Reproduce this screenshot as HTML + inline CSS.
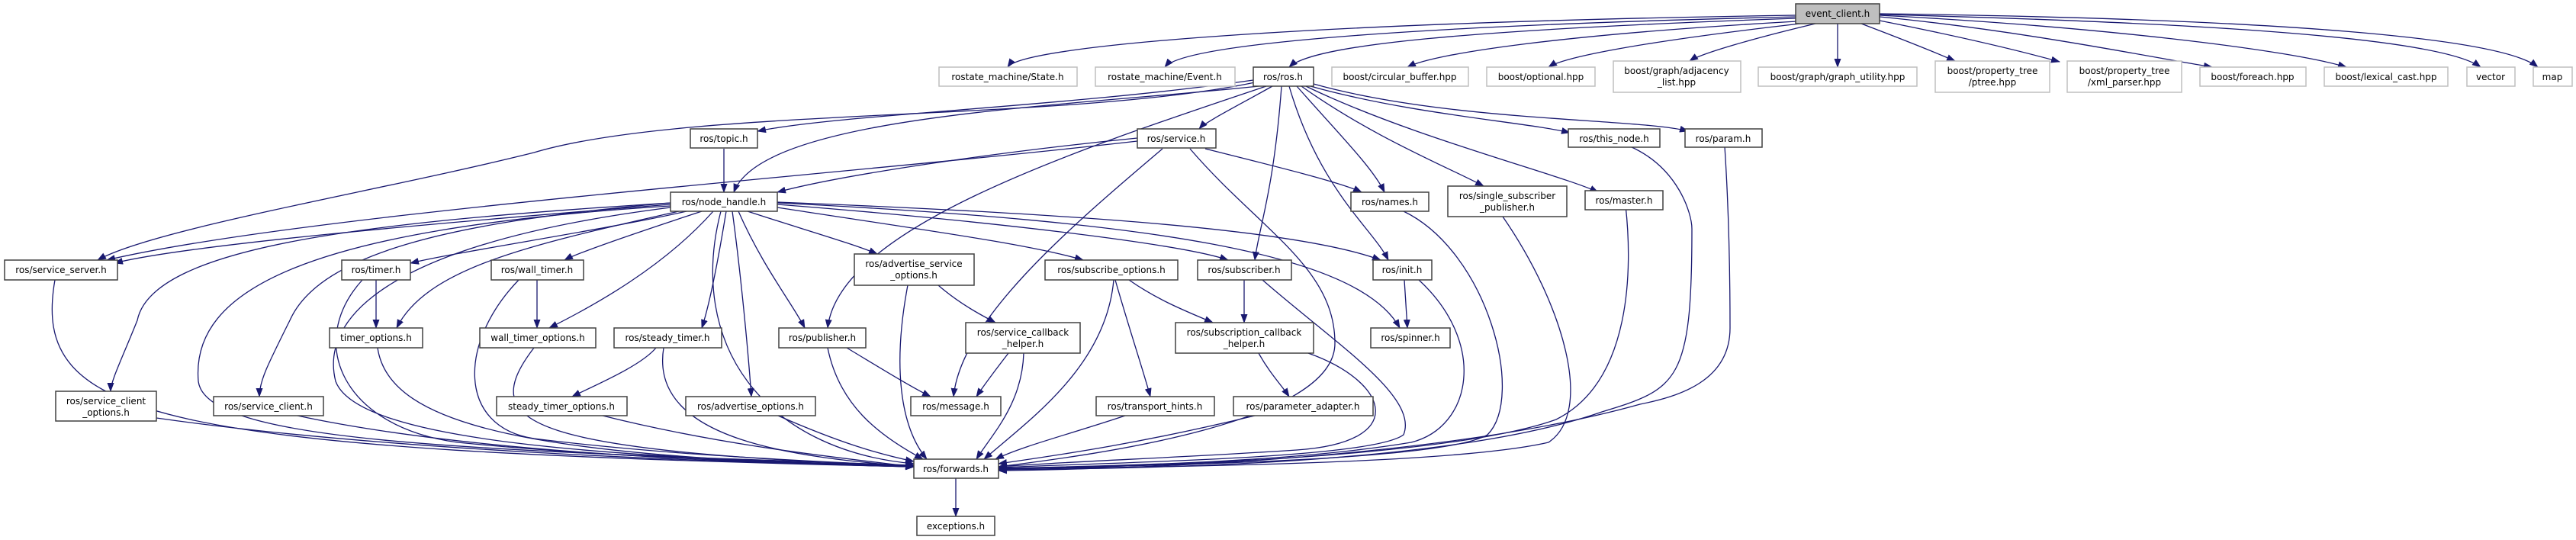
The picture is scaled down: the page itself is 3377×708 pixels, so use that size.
<!DOCTYPE html>
<html><head><meta charset="utf-8"><style>
html,body{margin:0;padding:0;background:#fff;}
svg{display:block;}
text{font-family:"DejaVu Sans","Liberation Sans",sans-serif;font-size:12px;fill:#000;}
.e{fill:none;stroke:#191970;stroke-width:1.3;marker-end:url(#a);}
.n{fill:#fff;stroke:#404040;stroke-width:1.5;}
.g{fill:#fff;stroke:#bfbfbf;stroke-width:1.5;}
</style></head><body>
<svg width="3377" height="708" viewBox="0 0 3377 708" xmlns="http://www.w3.org/2000/svg">
<defs><marker id="a" markerUnits="userSpaceOnUse" markerWidth="12" markerHeight="9" refX="11" refY="4.5" orient="auto"><path d="M0,0 L12,4.5 L0,9 z" fill="#191970"/></marker></defs>
<g>
<path class="e" d="M2354 20 C1700 30,1340 60,1321 88"/>
<path class="e" d="M2354 22 C1800 35,1550 60,1527 88"/>
<path class="e" d="M2354 24 C1900 40,1720 60,1690 88"/>
<path class="e" d="M2356 28 C2050 45,1880 70,1845 88"/>
<path class="e" d="M2360 31 C2150 55,2050 75,2030 88"/>
<path class="e" d="M2380 31 C2300 50,2230 70,2215 80"/>
<path class="e" d="M2409 31 L2409 88"/>
<path class="e" d="M2440 31 C2490 50,2540 70,2563 80"/>
<path class="e" d="M2464 27 C2580 50,2660 70,2700 81"/>
<path class="e" d="M2464 22 C2650 40,2820 75,2900 88"/>
<path class="e" d="M2464 20 C2750 35,3000 65,3076 88"/>
<path class="e" d="M2464 19 C2900 30,3200 50,3252 88"/>
<path class="e" d="M2464 18 C3000 25,3280 50,3327 88"/>

<path class="e" d="M1643 105 C1400 140,1100 150,993 172"/>
<path class="e" d="M1650 113 C1400 140,1000 150,962 252"/>
<path class="e" d="M1645 108 C1400 160,900 140,700 200 C500 250,200 300,128 341"/>
<path class="e" d="M1668 113 C1620 140,1580 160,1572 169"/>
<path class="e" d="M1660 113 C1400 200,1100 300,1085 430"/>
<path class="e" d="M1680 113 C1670 250,1650 300,1645 341"/>
<path class="e" d="M1690 113 C1730 250,1800 300,1820 341"/>
<path class="e" d="M1700 113 C1750 170,1800 220,1815 252"/>
<path class="e" d="M1706 113 C1800 180,1900 220,1945 244"/>
<path class="e" d="M1712 113 C1850 180,2050 230,2095 252"/>
<path class="e" d="M1718 113 C1850 150,2000 160,2058 174"/>
<path class="e" d="M1722 110 C1900 160,2150 155,2213 172"/>

<path class="e" d="M1491 181 C1300 200,1100 230,1019 252"/>
<path class="e" d="M1491 185 C1100 230,400 280,140 341"/>
<path class="e" d="M1524 195 C1400 300,1260 420,1250 520"/>
<path class="e" d="M1560 195 C1650 300,1750 350,1750 450 C1750 560,1400 600,1309 612"/>
<path class="e" d="M1580 195 C1680 220,1760 240,1785 252"/>
<path class="e" d="M949 195 L949 252"/>

<path class="e" d="M879 268 C600 290,250 320,150 345"/>
<path class="e" d="M879 266 C500 290,200 320,180 420 C160 470,145 500,145 513"/>
<path class="e" d="M879 266 C600 290,420 330,380 420 C350 480,340 500,340 520"/>
<path class="e" d="M879 270 C400 300,250 380,260 500 C270 580,600 590,1198 610"/>
<path class="e" d="M879 272 C500 320,420 420,440 500 C470 580,800 600,1198 611"/>
<path class="e" d="M900 277 C800 300,600 330,538 345"/>
<path class="e" d="M890 277 C700 320,560 350,520 430"/>
<path class="e" d="M920 277 C850 300,760 330,740 341"/>
<path class="e" d="M935 277 C870 350,780 400,720 430"/>
<path class="e" d="M952 277 C940 350,930 400,920 430"/>
<path class="e" d="M960 277 C970 350,980 450,985 520"/>
<path class="e" d="M968 277 C1000 350,1040 400,1055 430"/>
<path class="e" d="M980 277 C1050 300,1120 320,1150 333"/>
<path class="e" d="M1019 272 C1200 300,1350 320,1420 341"/>
<path class="e" d="M1019 268 C1300 290,1550 320,1610 341"/>
<path class="e" d="M1019 265 C1400 280,1700 300,1810 341"/>
<path class="e" d="M1019 266 C1500 290,1780 330,1835 430"/>
<path class="e" d="M945 277 C900 450,1000 590,1198 608"/>

<path class="e" d="M72 367 C40 550,200 590,1198 612"/>
<path class="e" d="M205 548 C500 590,900 605,1198 612"/>
<path class="e" d="M390 545 C600 590,900 605,1198 612"/>
<path class="e" d="M475 367 C400 450,450 560,600 580 C800 600,1000 605,1198 612"/>
<path class="e" d="M495 456 C510 560,700 600,1198 612"/>
<path class="e" d="M680 367 C600 450,600 560,700 575 C900 600,1100 605,1198 612"/>
<path class="e" d="M700 456 C620 560,700 590,1198 612"/>
<path class="e" d="M870 456 C850 580,1050 600,1198 612"/>
<path class="e" d="M790 545 C950 585,1100 600,1198 612"/>
<path class="e" d="M1020 545 C1100 580,1150 595,1198 605"/>
<path class="e" d="M1085 456 C1100 530,1150 570,1210 602"/>
<path class="e" d="M1190 374 C1170 480,1180 560,1215 602"/>
<path class="e" d="M1342 463 C1340 530,1300 570,1280 602"/>
<path class="e" d="M1460 367 C1450 480,1350 550,1290 602"/>
<path class="e" d="M1475 545 C1400 570,1340 585,1305 602"/>
<path class="e" d="M1645 545 C1500 580,1400 595,1309 608"/>
<path class="e" d="M1715 463 C1820 500,1850 580,1700 590 C1550 600,1400 605,1309 612"/>
<path class="e" d="M1655 367 C1750 450,1860 520,1840 570 C1800 600,1500 605,1309 613"/>
<path class="e" d="M1860 367 C1950 450,1930 560,1850 580 C1700 605,1500 610,1309 614"/>
<path class="e" d="M1840 277 C1950 330,2000 520,1950 570 C1900 600,1600 610,1309 614"/>
<path class="e" d="M1970 284 C2050 400,2090 540,2030 580 C1900 610,1500 612,1309 615"/>
<path class="e" d="M2131 269 C2140 350,2140 500,2040 550 C1900 600,1500 612,1309 615"/>
<path class="e" d="M2137 192 C2200 220,2218 280,2218 300 C2218 500,2200 510,2100 540 C1900 610,1500 614,1309 616"/>
<path class="e" d="M2261 192 C2268 300,2268 400,2268 430 C2268 500,2200 520,2150 530 C1900 600,1500 615,1309 617"/>

<path class="e" d="M493 367 L493 430"/>
<path class="e" d="M704 367 L704 430"/>
<path class="e" d="M860 456 C840 480,780 505,750 520"/>
<path class="e" d="M1230 374 C1260 400,1290 415,1305 423"/>
<path class="e" d="M1110 456 C1150 480,1190 505,1220 520"/>
<path class="e" d="M1322 463 C1305 485,1290 505,1280 520"/>
<path class="e" d="M1480 367 C1520 395,1560 410,1590 423"/>
<path class="e" d="M1462 367 C1480 430,1500 490,1508 520"/>
<path class="e" d="M1631 367 L1631 423"/>
<path class="e" d="M1650 463 C1665 490,1680 505,1690 520"/>
<path class="e" d="M1841 367 L1845 430"/>
<path class="e" d="M1253 627 L1253 677"/>
</g>
<g text-anchor="middle">
<rect x="2354" y="5" width="110" height="26" fill="#bfbfbf" stroke="#404040" stroke-width="1.5"/><text x="2409" y="22">event_client.h</text>
<rect class="g" x="1231" y="88" width="181" height="25"/><text x="1321" y="105">rostate_machine/State.h</text>
<rect class="g" x="1436" y="88" width="183" height="25"/><text x="1527" y="105">rostate_machine/Event.h</text>
<rect class="n" x="1643" y="88" width="79" height="25"/><text x="1682" y="105">ros/ros.h</text>
<rect class="g" x="1746" y="88" width="179" height="25"/><text x="1835" y="105">boost/circular_buffer.hpp</text>
<rect class="g" x="1949" y="88" width="142" height="25"/><text x="2020" y="105">boost/optional.hpp</text>
<rect class="g" x="2115" y="80" width="167" height="41"/><text x="2198" y="97">boost/graph/adjacency</text><text x="2198" y="112">_list.hpp</text>
<rect class="g" x="2305" y="88" width="208" height="25"/><text x="2409" y="105">boost/graph/graph_utility.hpp</text>
<rect class="g" x="2537" y="80" width="150" height="41"/><text x="2612" y="97">boost/property_tree</text><text x="2612" y="112">/ptree.hpp</text>
<rect class="g" x="2710" y="80" width="150" height="41"/><text x="2785" y="97">boost/property_tree</text><text x="2785" y="112">/xml_parser.hpp</text>
<rect class="g" x="2884" y="88" width="139" height="25"/><text x="2953" y="105">boost/foreach.hpp</text>
<rect class="g" x="3047" y="88" width="162" height="25"/><text x="3128" y="105">boost/lexical_cast.hpp</text>
<rect class="g" x="3234" y="88" width="63" height="25"/><text x="3265" y="105">vector</text>
<rect class="g" x="3321" y="88" width="51" height="25"/><text x="3346" y="105">map</text>

<rect class="n" x="905" y="169" width="88" height="25"/><text x="949" y="186">ros/topic.h</text>
<rect class="n" x="1491" y="169" width="103" height="25"/><text x="1542" y="186">ros/service.h</text>
<rect class="n" x="2056" y="169" width="120" height="24"/><text x="2116" y="186">ros/this_node.h</text>
<rect class="n" x="2209" y="169" width="101" height="24"/><text x="2259" y="186">ros/param.h</text>

<rect class="n" x="879" y="252" width="140" height="25"/><text x="949" y="269">ros/node_handle.h</text>
<rect class="n" x="1771" y="252" width="102" height="25"/><text x="1822" y="269">ros/names.h</text>
<rect class="n" x="1898" y="244" width="156" height="40"/><text x="1976" y="261">ros/single_subscriber</text><text x="1976" y="276">_publisher.h</text>
<rect class="n" x="2078" y="250" width="102" height="25"/><text x="2129" y="267">ros/master.h</text>

<rect class="n" x="6" y="341" width="148" height="26"/><text x="80" y="358">ros/service_server.h</text>
<rect class="n" x="448" y="341" width="90" height="26"/><text x="493" y="358">ros/timer.h</text>
<rect class="n" x="644" y="341" width="121" height="26"/><text x="704" y="358">ros/wall_timer.h</text>
<rect class="n" x="1120" y="333" width="157" height="41"/><text x="1198" y="350">ros/advertise_service</text><text x="1198" y="365">_options.h</text>
<rect class="n" x="1370" y="341" width="174" height="26"/><text x="1457" y="358">ros/subscribe_options.h</text>
<rect class="n" x="1570" y="341" width="123" height="26"/><text x="1631" y="358">ros/subscriber.h</text>
<rect class="n" x="1800" y="341" width="77" height="26"/><text x="1838" y="358">ros/init.h</text>

<rect class="n" x="432" y="430" width="122" height="26"/><text x="493" y="447">timer_options.h</text>
<rect class="n" x="629" y="430" width="152" height="26"/><text x="705" y="447">wall_timer_options.h</text>
<rect class="n" x="805" y="430" width="141" height="26"/><text x="875" y="447">ros/steady_timer.h</text>
<rect class="n" x="1021" y="430" width="114" height="26"/><text x="1078" y="447">ros/publisher.h</text>
<rect class="n" x="1266" y="423" width="150" height="40"/><text x="1341" y="440">ros/service_callback</text><text x="1341" y="455">_helper.h</text>
<rect class="n" x="1541" y="423" width="181" height="40"/><text x="1631" y="440">ros/subscription_callback</text><text x="1631" y="455">_helper.h</text>
<rect class="n" x="1797" y="430" width="104" height="26"/><text x="1849" y="447">ros/spinner.h</text>

<rect class="n" x="73" y="513" width="132" height="39"/><text x="139" y="530">ros/service_client</text><text x="139" y="545">_options.h</text>
<rect class="n" x="280" y="520" width="144" height="25"/><text x="352" y="537">ros/service_client.h</text>
<rect class="n" x="651" y="520" width="171" height="25"/><text x="736" y="537">steady_timer_options.h</text>
<rect class="n" x="899" y="520" width="170" height="25"/><text x="984" y="537">ros/advertise_options.h</text>
<rect class="n" x="1194" y="520" width="118" height="25"/><text x="1253" y="537">ros/message.h</text>
<rect class="n" x="1437" y="520" width="155" height="25"/><text x="1514" y="537">ros/transport_hints.h</text>
<rect class="n" x="1617" y="520" width="183" height="25"/><text x="1708" y="537">ros/parameter_adapter.h</text>

<rect class="n" x="1198" y="602" width="111" height="25"/><text x="1253" y="619">ros/forwards.h</text>
<rect class="n" x="1202" y="677" width="102" height="25"/><text x="1253" y="694">exceptions.h</text>
</g>
</svg>
</body></html>
